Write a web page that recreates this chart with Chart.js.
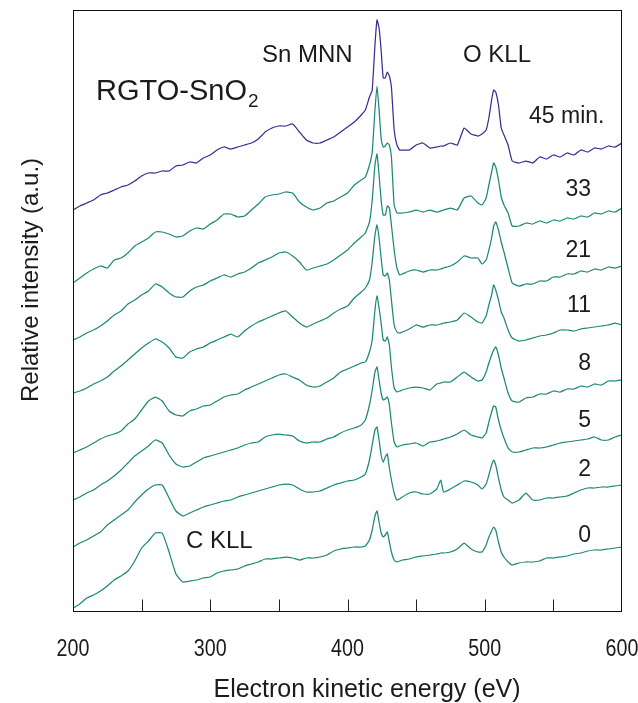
<!DOCTYPE html>
<html>
<head>
<meta charset="utf-8">
<script src="https://cdn.jsdelivr.net/npm/chart.js@4.4.1/dist/chart.umd.min.js"></script>
<style>
html,body{margin:0;padding:0;background:#fff;}
#wrap{width:638px;height:703px;}
</style>
</head>
<body>
<div id="wrap"><canvas id="c" width="638" height="703"></canvas></div>
<script>
// Electron kinetic energy (eV)
const energy = [200,205,210,215,220,225,230,235,240,245,250,255,260,265,270,275,280,285,290,295,300,305,310,315,320,325,330,335,340,345,350,355,360,365,370,375,380,385,390,395,400,405,410,
413,416,418,420,421.5,423,424.5,426,427.5,429,430.5,432,434,436,438,440,
445,450,455,460,465,468,470,475,480,485,490,495,
498,501,503,505,506.5,508,510,512,514,517,520,
525,530,535,540,545,550,555,560,565,570,575,580,585,590,595,600];

// Relative intensity (a.u., spectra offset vertically), one array per sputtering time
const int45 = [402,406,409,412,417,419,422,425,427,431,436,439,439,441,441,446,447,450,449,454,457,462,465,463,465,467,469,473,480,484,486,486,488,480,472,469,469,472,475,480,485,490,497,
502,515,522,567,592,584,562,534,534,540,536,525,482,467,462,462,
462,467,469,464,465,466,466,469,467,484,478,476,
478,482,494,512,522,520,507,484,477,467,451,
449,451,449,455,453,457,455,459,457,462,460,464,463,466,465,469];
const int33 = [329,334,339,343,346,344,352,354,359,366,370,374,380,380,378,375,376,381,384,383,388,392,398,398,395,396,402,408,415,417,418,420,419,410,405,402,404,409,411,415,419,427,432,
435,447,460,502,526,502,474,465,466,469,467,455,407,399,399,399,
400,402,400,402,400,401,402,404,402,414,416,409,
407,414,427,440,449,445,432,415,407,399,386,
386,389,388,391,389,392,391,394,393,396,395,399,398,401,400,404];
const int21 = [272,275,279,282,286,291,297,301,308,312,317,321,328,325,319,315,315,321,325,327,331,334,337,335,338,340,344,349,352,355,359,360,356,350,342,344,346,348,352,357,362,369,375,
379,390,412,447,458,437,412,397,397,406,404,387,362,344,337,338,
341,342,340,342,342,343,344,346,350,356,354,354,
348,352,362,374,386,390,382,370,360,344,329,
326,328,328,331,331,335,335,338,338,341,340,343,342,345,344,346];
const int11 = [219,221,224,228,231,235,241,246,252,258,264,269,273,270,264,255,254,260,263,265,269,272,275,278,275,281,286,290,293,296,299,301,295,289,285,288,291,294,299,303,306,314,320,
324,332,350,377,387,374,354,337,336,339,332,312,287,280,279,280,
283,287,285,287,287,288,289,290,292,299,295,290,
289,296,307,317,327,322,312,300,294,282,274,
271,272,274,276,277,279,282,282,281,283,284,285,286,287,289,287];
const int8 = [159,162,165,169,173,176,178,181,188,193,202,211,215,211,201,197,196,201,203,206,207,211,215,217,218,222,225,228,231,234,237,238,235,232,227,225,226,230,234,240,243,246,249,
250,260,272,302,316,304,289,272,271,275,267,245,224,220,221,222,
224,225,224,222,228,229,230,230,235,240,235,231,
232,240,249,257,262,265,257,244,234,219,211,
210,214,215,218,218,221,220,223,223,226,225,228,227,231,231,232];
const int5 = [112,115,119,122,127,131,136,142,149,156,161,166,172,169,157,148,145,146,150,154,156,158,160,162,164,167,169,170,175,177,178,177,176,171,169,170,170,173,175,179,182,184,187,
192,207,222,240,245,232,219,212,213,215,207,189,170,165,166,167,
168,169,166,170,171,172,173,175,178,182,177,175,
174,179,190,200,206,205,192,182,174,164,160,
160,162,164,164,165,167,169,170,171,172,173,175,172,172,175,177];
const int2 = [65,69,72,76,80,87,92,97,102,110,117,123,127,127,114,101,96,99,102,105,107,109,111,112,115,117,119,121,123,125,127,128,127,123,120,120,121,124,127,129,131,132,135,
138,152,167,182,185,172,157,150,155,158,144,132,119,112,113,115,
119,120,118,118,123,132,120,123,127,131,130,127,
123,128,137,147,152,147,134,122,115,112,109,
112,119,112,112,114,114,115,116,119,122,124,124,125,125,126,127];
const int0 = [4,8,14,17,21,26,32,36,41,51,64,71,79,79,60,38,30,31,32,34,35,39,41,42,43,46,48,50,53,53,54,55,54,52,54,54,55,57,61,63,64,65,65,
66,72,82,96,101,90,79,75,77,80,70,60,52,50,51,52,
53,55,56,57,58,59,59,60,63,69,63,60,
60,67,75,81,85,82,70,60,55,50,47,
49,50,50,51,54,54,55,56,58,59,61,62,62,63,64,65];

const seriesNames = ['45 min.','33','21','11','8','5','2','0'];
const seriesValues = [int45,int33,int21,int11,int8,int5,int2,int0];
const xTickLabels = [200,300,400,500,600];
const xMinorTicks = [250,300,350,400,450,500,550];
const peakLabels = ['Sn MNN','O KLL','C KLL'];

// ---- styling / layout ----
const FONT = '"Liberation Sans", Arial, Helvetica, sans-serif';
const GREEN = '#1d8878';
const PURPLE = '#3d2c94';
const TEXT = '#1b1b1b';
const labelPos = [[529,123,'left'],[591,196,'right'],[591,257,'right'],[591,312,'right'],[591,370,'right'],[591,427,'right'],[591,476,'right'],[591,542,'right']];
const peakPos = [[262,62],[463,62],[186,548]];

const datasets = seriesValues.map((vals,k)=>({
  label: seriesNames[k],
  data: energy.map((e,i)=>({x:e,y:vals[i]})),
  borderColor: k===0 ? PURPLE : GREEN,
  borderWidth: 1.25,
  pointRadius: 0,
  fill: false,
  tension: 0.15
}));

const overlay = {
  id:'overlay',
  afterDraw(chart){
    const ctx = chart.ctx, a = chart.chartArea, xs = chart.scales.x;
    ctx.save();
    // frame
    ctx.strokeStyle = '#111';
    ctx.lineWidth = 1;
    ctx.strokeRect(Math.round(a.left)+0.5, Math.round(a.top)+0.5, Math.round(a.right-a.left)-1, Math.round(a.bottom-a.top)-1);
    // inward ticks
    ctx.strokeStyle = '#222';
    xMinorTicks.forEach(t=>{
      const px = Math.round(xs.getPixelForValue(t))+0.5;
      ctx.beginPath(); ctx.moveTo(px, a.bottom); ctx.lineTo(px, a.bottom-12); ctx.stroke();
    });
    // tick labels
    ctx.fillStyle = TEXT;
    ctx.textAlign = 'center';
    ctx.textBaseline = 'alphabetic';
    ctx.font = '24px ' + FONT;
    xTickLabels.forEach(t=>{
      const px = xs.getPixelForValue(t);
      ctx.save(); ctx.translate(px, 656); ctx.scale(0.82,1);
      ctx.fillText(String(t), 0, 0);
      ctx.restore();
    });
    // axis titles
    ctx.font = '25px ' + FONT;
    ctx.fillText('Electron kinetic energy (eV)', 367, 697);
    ctx.save();
    ctx.translate(38, 280);
    ctx.rotate(-Math.PI/2);
    ctx.font = '24px ' + FONT;
    ctx.fillText('Relative intensity (a.u.)', 0, 0);
    ctx.restore();
    // title
    ctx.textAlign = 'left';
    ctx.font = '29px ' + FONT;
    ctx.fillText('RGTO-SnO', 96, 100);
    const w = ctx.measureText('RGTO-SnO').width;
    ctx.font = '19px ' + FONT;
    ctx.fillText('2', 96 + w + 1, 107);
    // peak labels
    ctx.font = '24px ' + FONT;
    peakLabels.forEach((s,i)=> ctx.fillText(s, peakPos[i][0], peakPos[i][1]));
    // series labels
    ctx.font = '23px ' + FONT;
    seriesNames.forEach((s,i)=>{
      ctx.textAlign = labelPos[i][2];
      ctx.fillText(s, labelPos[i][0], labelPos[i][1]);
    });
    ctx.restore();
  }
};

new Chart(document.getElementById('c'), {
  type: 'line',
  data: { datasets },
  options: {
    responsive: false,
    animation: false,
    devicePixelRatio: 1,
    parsing: false,
    layout: { padding: { left: 73, right: 16, top: 9.5, bottom: 91.5 } },
    plugins: { legend: { display: false }, tooltip: { enabled: false } },
    scales: {
      x: { type: 'linear', min: 200, max: 600, display: false },
      y: { type: 'linear', min: 0.5, max: 602.5, display: false }
    }
  },
  plugins: [overlay]
});
</script>
</body>
</html>
